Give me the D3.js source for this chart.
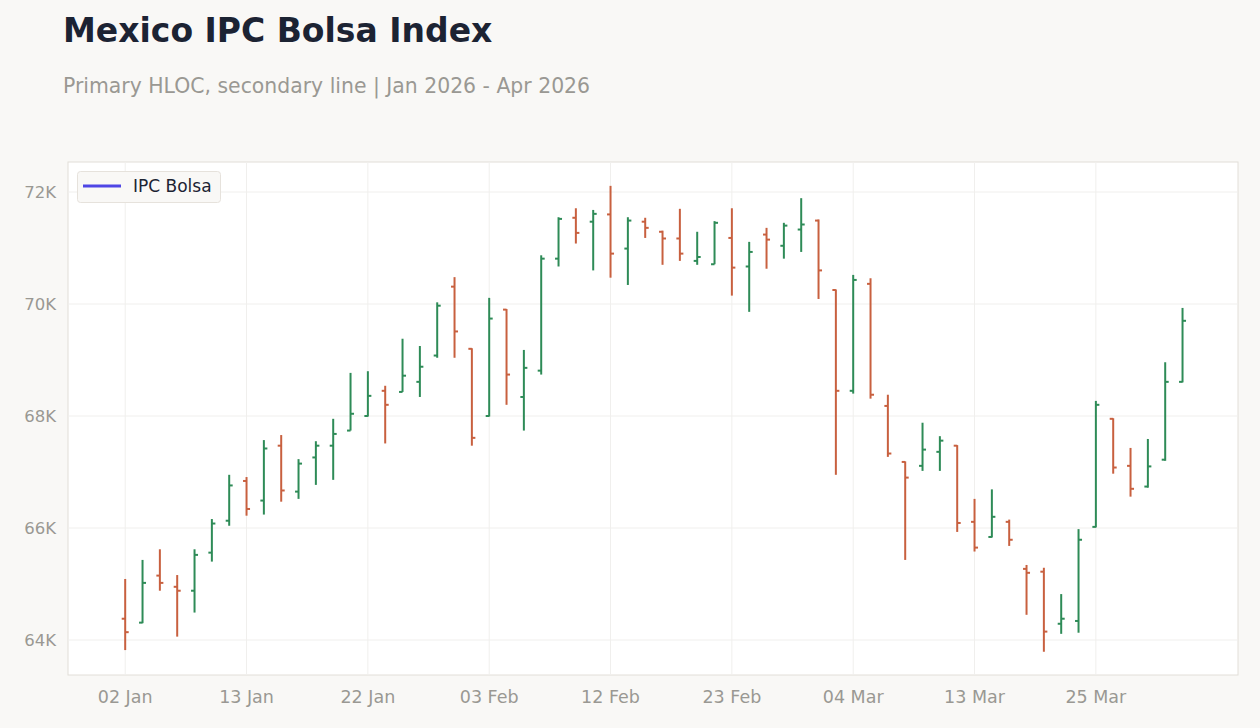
<!DOCTYPE html>
<html><head><meta charset="utf-8">
<script src="https://cdn.jsdelivr.net/npm/d3@7"></script>
<style>body{margin:0;background:#f9f8f6;font-family:"DejaVu Sans",sans-serif}</style>
</head><body><svg id="c" width="1260" height="728"></svg>
<script>
const open=[64380,64310,65150,64950,64880,65560,66130,66840,66490,67470,66650,67260,67470,67740,68000,68450,68430,68610,69080,70310,69200,68000,69900,68340,68810,70810,71540,71470,71600,70990,71470,71290,71170,70770,70710,71180,70670,71240,71040,71330,71490,70250,68450,70360,68180,67180,67110,67360,67470,66110,65840,66110,65270,65220,64290,64340,66020,67950,67110,66740,67220,68610];
const high=[65090,65430,65620,65160,65620,66160,66950,66910,67570,67660,67230,67550,67950,68770,68800,68540,69380,69250,70030,70480,69210,70110,69910,69180,70870,71550,71710,71680,72110,71550,71540,71310,71700,71290,71480,71710,71110,71360,71450,71890,71510,70260,70520,70460,68380,67190,67880,67640,67480,66520,66690,66150,65340,65290,64820,65980,68270,67960,67430,67590,68960,69930];
const low=[63820,64300,64880,64060,64490,65400,66040,66220,66240,66470,66520,66770,66860,67740,67990,67510,68430,68340,69040,69040,67470,67990,68200,67740,68740,70670,71080,70600,70470,70340,71180,70700,70770,70700,70710,70150,69860,70630,70810,70930,70090,66950,68400,68310,67270,65430,67020,67020,65930,65580,65830,65680,64450,63790,64110,64130,66010,66970,66560,66720,67200,68600];
const close=[64140,65020,65020,64880,65520,66080,66760,66340,67420,66670,67150,67470,67680,68040,68360,68200,68720,68880,69970,69510,67610,69740,68740,68860,70810,71520,71270,71610,70900,71490,71360,71170,70900,70840,71450,70650,70930,71150,71400,71420,70600,68450,70430,68380,67330,66900,67400,67560,66090,65650,66200,65790,65200,64150,64380,65790,68200,67080,66700,67100,68610,69700];
const tickIdx=[0,7,14,21,28,35,42,49,56];
const tickLabels=["02 Jan","13 Jan","22 Jan","03 Feb","12 Feb","23 Feb","04 Mar","13 Mar","25 Mar"];
const yTicks=[64000,66000,68000,70000,72000];

const svg=d3.select("#c");
const L=68,R=1238,T=162,B=675;
const x=d3.scaleLinear().domain([-3.3,64.2]).range([L,R]);
const y=d3.scaleLinear().domain([63375,72536]).range([B,T]);
svg.append("rect").attr("x",L).attr("y",T).attr("width",R-L).attr("height",B-T).attr("fill","#fff").attr("stroke","#e2ded8");
svg.append("text").attr("x",63).attr("y",42).text("Mexico IPC Bolsa Index").attr("font-size",33).attr("font-weight","bold").attr("fill","#1c2333");
svg.append("text").attr("x",63).attr("y",93).text("Primary HLOC, secondary line | Jan 2026 - Apr 2026").attr("font-size",20.4).attr("fill","#9a9893");
const g=svg.append("g");
yTicks.forEach(v=>{g.append("line").attr("x1",L).attr("x2",R).attr("y1",y(v)).attr("y2",y(v)).attr("stroke","#f0efed");
 g.append("text").attr("x",L-12).attr("y",y(v)+6).attr("text-anchor","end").attr("font-size",16.5).attr("fill","#9a9893").text((v/1000)+"K");});
tickIdx.forEach((i,k)=>{g.append("line").attr("x1",x(i)).attr("x2",x(i)).attr("y1",T).attr("y2",B).attr("stroke","#f0efed");
 g.append("text").attr("x",x(i)).attr("y",B+28).attr("text-anchor","middle").attr("font-size",17.5).attr("fill","#9a9893").text(tickLabels[k]);});
open.forEach((o,i)=>{const c=close[i]>=o?"#2e8b57":"#c8603f";const cx=x(i);
 g.append("line").attr("x1",cx).attr("x2",cx).attr("y1",y(high[i])).attr("y2",y(low[i])).attr("stroke",c).attr("stroke-width",2);
 g.append("line").attr("x1",cx-3.5).attr("x2",cx).attr("y1",y(o)).attr("y2",y(o)).attr("stroke",c).attr("stroke-width",2);
 g.append("line").attr("x1",cx).attr("x2",cx+3.5).attr("y1",y(close[i])).attr("y2",y(close[i])).attr("stroke",c).attr("stroke-width",2);});
const lg=svg.append("g");
lg.append("rect").attr("x",77.5).attr("y",171.5).attr("width",143).attr("height",31).attr("rx",3).attr("fill","#f9f8f6").attr("stroke","#e6e2dc");
lg.append("line").attr("x1",83).attr("x2",121).attr("y1",186).attr("y2",186).attr("stroke","#4f46e5").attr("stroke-width",3);
lg.append("text").attr("x",133).attr("y",192).attr("font-size",17).attr("fill","#1c2333").text("IPC Bolsa");
</script></body></html>
